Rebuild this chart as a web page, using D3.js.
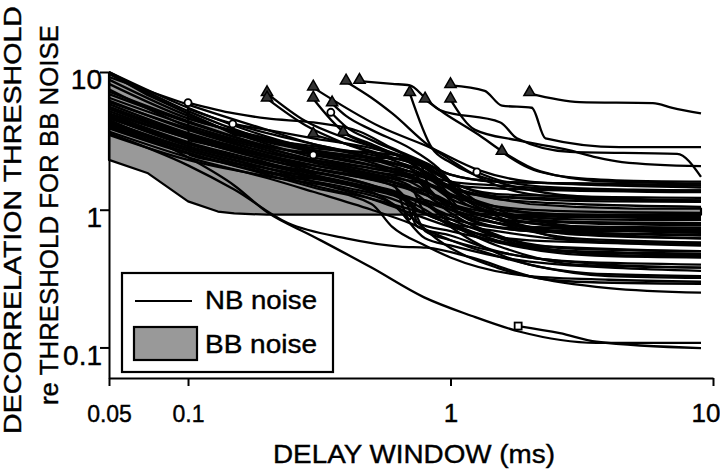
<!DOCTYPE html>
<html>
<head>
<meta charset="utf-8">
<script src="https://cdnjs.cloudflare.com/ajax/libs/d3/7.8.5/d3.min.js"></script>
<style>
  body { margin: 0; background: #fff; }
  svg { display: block; font-family: Helvetica, Arial, "Liberation Sans", sans-serif; }
  svg text { stroke: #000; stroke-width: 0.4px; }
</style>
</head>
<body>
<svg width="720" height="470"></svg>
<script>
// BB noise range (gray band)
var bbDelay = [0.05, 0.07, 0.1, 0.13, 0.15, 0.2, 0.3, 0.45, 0.7, 1, 1.5, 2, 3, 5, 9];
var bbUpper = [9.8, 6.8, 5.0, 4.0, 3.5, 3.2, 2.9, 2.5, 1.9, 1.45, 1.2, 1.1, 1.05, 1.02, 1.02];
var bbLower = [2.3, 1.85, 1.15, 0.97, 0.94, 0.92, 0.92, 0.92, 0.92, 0.92, 0.92, 0.92, 0.92, 0.92, 0.92];

// NB noise curves starting at the shortest window
var nbFromStart = [
  [[0.05,10],[0.1,5.2],[0.2,3.2],[0.3,2.6],[0.5,2.1],[0.7,1.7],[1,1.3],[1.5,1.0],[2,0.85],[3,0.75],[5,0.7],[9,0.68]],
  [[0.05,9.7],[0.1,5.0],[0.15,3.6],[0.2,3.0],[0.3,2.4],[0.5,2.0],[0.8,1.6],[1,1.2],[1.5,0.95],[3,0.8],[9,0.77]],
  [[0.05,9.2],[0.1,5.8],[0.2,3.8],[0.3,3.0],[0.5,2.5],[0.7,2.2],[0.9,1.6],[1.2,1.3],[2,1.2],[4,1.15],[9,1.14]],
  [[0.05,8.2],[0.1,4.6],[0.2,3.3],[0.3,2.7],[0.5,2.4],[0.75,2.3],[0.85,1.3],[1,1.1],[2,0.9],[4,0.88],[9,0.86]],
  [[0.05,6.9],[0.1,4.3],[0.2,2.9],[0.3,2.5],[0.5,2.1],[0.7,1.9],[1,1.6],[1.5,1.5],[3,1.4],[9,1.38]],
  [[0.05,6.05],[0.1,3.9],[0.2,2.7],[0.3,2.2],[0.5,1.8],[0.7,1.5],[0.8,0.95],[1,0.8],[1.5,0.6],[3,0.5],[9,0.48]],
  [[0.05,5.85],[0.1,3.6],[0.2,2.5],[0.3,2.0],[0.5,1.65],[0.7,1.4],[1,1.1],[1.5,0.85],[3,0.66],[9,0.62]],
  [[0.05,5.2],[0.1,3.3],[0.2,2.3],[0.3,1.9],[0.5,1.5],[0.65,1.3],[0.75,0.75],[1,0.65],[1.5,0.5],[3,0.42],[9,0.4]],
  [[0.05,4.95],[0.1,3.1],[0.2,2.2],[0.3,1.8],[0.5,1.45],[1,1.0],[1.5,0.8],[3,0.62],[9,0.58]],
  [[0.05,4.7],[0.1,2.9],[0.2,2.1],[0.3,1.75],[0.5,1.4],[0.7,1.1],[0.8,0.7],[1,0.6],[2,0.45],[4,0.4],[9,0.38]],
  [[0.05,4.4],[0.1,2.8],[0.2,2.0],[0.3,1.6],[0.5,1.2],[0.7,0.95],[1,0.75],[2,0.6],[9,0.56]],
  [[0.05,4.2],[0.1,2.7],[0.2,1.9],[0.3,1.5],[0.5,1.2],[1,0.85],[2,0.7],[9,0.66]],
  [[0.05,4.0],[0.1,2.6],[0.2,1.8],[0.3,1.45],[0.5,1.1],[0.6,0.75],[0.8,0.55],[1,0.45],[2,0.33],[4,0.31],[9,0.3]],
  [[0.05,3.7],[0.1,2.4],[0.2,1.7],[0.3,1.35],[0.5,1.0],[0.7,0.8],[1,0.6],[2,0.4],[4,0.33],[9,0.32]],
  [[0.05,3.6],[0.1,2.1],[0.15,1.4],[0.24,0.8],[0.4,0.62],[0.64,0.54],[0.81,0.53],[1.2,0.45],[2,0.33],[4,0.27],[9,0.25]],
  [[0.05,4.5],[0.1,2.4],[0.15,1.5],[0.2,0.96],[0.3,0.64],[0.5,0.38],[0.79,0.232],[1.2,0.17],[1.84,0.13],[3.6,0.108],[9,0.108]],
  [[0.05,10],[0.1,5.5],[0.2,3.4],[0.3,2.8],[0.5,2.6],[0.7,2.4],[1,1.8],[1.5,1.6],[3,1.55],[9,1.5]],
  [[0.05,7.5],[0.1,4.0],[0.2,2.6],[0.4,2.0],[0.6,1.7],[0.9,1.45],[1.1,0.9],[1.5,0.75],[3,0.7],[9,0.7]],
  [[0.05,6.5],[0.1,4.1],[0.2,2.8],[0.3,2.3],[0.5,1.9],[0.8,1.6],[1,1.25],[2,1.0],[4,0.96],[9,0.95]],
  [[0.05,5.5],[0.1,3.5],[0.2,2.45],[0.3,2.0],[0.6,1.6],[0.9,1.25],[1.2,0.95],[2,0.9],[9,0.94]],
  [[0.05,5.0],[0.1,3.3],[0.2,2.3],[0.4,1.8],[0.6,1.5],[0.75,1.0],[0.9,0.85],[1.5,0.7],[3,0.6],[9,0.57]],
  [[0.05,4.6],[0.1,3.0],[0.2,2.15],[0.4,1.7],[0.6,1.35],[0.8,1.1],[1,0.8],[2,0.52],[4,0.46],[9,0.45]],
  [[0.05,4.3],[0.1,2.8],[0.2,2.0],[0.4,1.55],[0.7,1.15],[0.75,0.8],[1,0.7],[2,0.55],[9,0.5]],
  [[0.05,3.9],[0.1,2.55],[0.2,1.85],[0.4,1.45],[0.6,1.2],[0.9,0.85],[1.5,0.55],[3,0.4],[9,0.38]],
  [[0.05,8.8],[0.1,4.8],[0.2,3.1],[0.4,2.5],[0.6,2.2],[0.8,1.9],[1,1.5],[2,1.4],[9,1.34]],
  [[0.05,7.2],[0.1,4.4],[0.2,2.9],[0.4,2.4],[0.7,2.0],[0.85,1.2],[1.1,1.0],[2,0.82],[9,0.8]],
  [[0.05,5.4],[0.1,3.4],[0.2,2.4],[0.4,1.9],[0.7,1.4],[0.95,0.9],[1.3,0.7],[2.5,0.5],[9,0.47]],
  [[0.05,4.8],[0.1,3.0],[0.2,2.1],[0.5,1.5],[0.8,1.0],[1.2,0.6],[2,0.4],[4,0.34],[9,0.33]],
  [[0.05,4.1],[0.1,2.7],[0.2,1.9],[0.5,1.35],[0.7,0.9],[0.9,0.6],[1.5,0.38],[3,0.3],[9,0.29]],
  [[0.05,6.2],[0.1,3.8],[0.2,2.6],[0.5,2.0],[0.8,1.7],[1.2,1.2],[2,0.95],[4,0.9],[9,0.88]],
  [[0.05,5.6],[0.1,3.5],[0.3,2.1],[0.6,1.6],[0.7,0.85],[0.75,1.2],[1,1.0],[2,0.75],[9,0.72]],
  [[0.05,3.5],[0.1,2.3],[0.2,1.75],[0.4,1.4],[0.6,1.1],[0.8,0.62],[1,0.55],[2,0.42],[9,0.36]]
];

// NB noise curves starting later, with the start marker kind
var nbLateMark = ["circle","none","none","none","none","none","circle",
  "tri","tri","tri","tri","tri","tri","tri","tri","tri","tri","tri","circle","tri","tri","circle","tri","tri","square","circle"];
var nbLateStart = [
  [[0.1,6.0],[0.15,5.0],[0.2,4.6],[0.3,4.3],[0.45,3.7],[0.6,2.8],[0.8,2.2],[1,1.8],[1.5,1.6],[3,1.55],[9,1.5]],
  [[0.1,5.4],[0.15,4.2],[0.2,3.8],[0.3,3.3],[0.5,2.8],[0.7,2.3],[1,1.6],[1.5,1.25],[3,1.2],[9,1.17]],
  [[0.1,4.6],[0.2,3.2],[0.3,2.7],[0.5,2.2],[0.8,1.5],[1,1.0],[1.5,0.8],[3,0.72],[9,0.7]],
  [[0.1,3.9],[0.2,2.8],[0.3,2.3],[0.5,1.9],[0.7,1.6],[0.9,1.2],[1.2,0.85],[2,0.7],[9,0.65]],
  [[0.1,3.2],[0.2,2.4],[0.3,2.0],[0.5,1.7],[0.8,1.3],[1,0.95],[1.5,0.65],[3,0.52],[9,0.5]],
  [[0.1,5.6],[0.101,2.5],[0.2,2.0],[0.3,1.7],[0.5,1.4],[0.7,1.2],[1,0.9],[2,0.55],[4,0.47],[9,0.46]],
  [[0.148,4.2],[0.2,3.6],[0.3,3.0],[0.5,2.4],[0.7,2.0],[1,1.45],[1.5,1.2],[3,1.1],[9,1.05]],
  [[0.2,7.0],[0.28,4.4],[0.4,3.3],[0.6,2.6],[0.8,2.1],[1,1.6],[1.5,1.3],[3,1.25],[9,1.22]],
  [[0.2,6.4],[0.28,4.1],[0.4,3.0],[0.6,2.3],[0.9,1.6],[1.1,1.0],[2,0.8],[4,0.75],[9,0.74]],
  [[0.3,7.7],[0.54,4.0],[0.83,2.85],[1.28,1.94],[2,1.6],[4,1.5],[9,1.45]],
  [[0.3,6.4],[0.39,3.7],[0.5,3.0],[0.7,2.2],[0.9,1.5],[1.2,1.05],[2,0.85],[4,0.8],[9,0.78]],
  [[0.354,5.9],[0.4,4.8],[0.5,3.8],[0.7,2.8],[0.9,2.0],[1.1,1.3],[1.5,1.0],[3,0.92],[9,0.9]],
  [[0.4,8.5],[0.5,6.5],[0.6,5.0],[0.83,2.9],[1.0,2.3],[1.3,1.7],[2,1.3],[4,1.2],[9,1.15]],
  [[0.45,8.6],[0.6,8.2],[0.7,8.0],[0.8,6.5],[0.91,5.3],[1.55,4.3],[1.79,3.3],[2.85,2.63],[7.3,2.54],[9,1.73]],
  [[0.7,7.0],[0.85,2.8],[1.0,2.2],[1.5,1.6],[2.5,1.3],[5,1.2],[9,1.17]],
  [[0.8,6.3],[0.95,5.0],[1.28,3.5],[1.6,2.6],[2.2,1.9],[4,1.6],[9,1.55]],
  [[1.0,8.0],[1.35,7.3],[1.57,5.7],[2.04,5.5],[2.3,3.3],[4.4,2.85],[9,2.85]],
  [[1.0,6.3],[1.24,3.8],[1.79,3.2],[2.85,2.7],[3.6,2.4],[4.5,2.22],[9,2.07]],
  [[0.35,5.1],[0.4,4.0],[0.5,3.2],[0.7,2.4],[1.0,1.6],[1.3,1.1],[2,0.8],[4,0.72],[9,0.7]],
  [[0.39,3.6],[0.5,2.9],[0.7,2.3],[0.9,1.9],[1.1,1.25],[1.5,0.95],[3,0.85],[9,0.84]],
  [[0.3,3.5],[0.4,3.0],[0.6,2.4],[0.8,2.0],[1.0,1.4],[1.4,0.95],[2.5,0.7],[9,0.62]],
  [[0.3,2.5],[0.5,2.1],[0.7,1.8],[0.85,1.3],[1.0,1.1],[1.5,0.85],[3,0.6],[9,0.55]],
  [[1.57,2.62],[2,2.0],[3,1.7],[5,1.62],[9,1.6]],
  [[2.0,7.0],[3.1,6.05],[5.9,5.95],[7,5.5],[9,5.0]],
  [[1.81,0.143],[2.61,0.127],[3.6,0.11],[9,0.099]],
  [[1.26,1.88],[1.6,1.6],[2.5,1.45],[5,1.4],[9,1.38]]
];

var xMajor = [0.05, 0.1, 1, 10];
var xMinor = [0.06,0.07,0.08,0.09,0.2,0.3,0.4,0.5,0.6,0.7,0.8,0.9,2,3,4,5,6,7,8,9];
var yMajor = [0.1, 1, 10];
var yMinor = [0.07,0.08,0.09,0.2,0.3,0.4,0.5,0.6,0.7,0.8,0.9,2,3,4,5,6,7,8,9];

var svg = d3.select("svg");

var x = d3.scaleLog().domain([0.05, 10]).range([109, 713]);
var y = d3.scaleLog().domain([0.06, 10]).range([378, 72]);

// gray band
var bbData = bbDelay.map(function(d, i) { return {d: d, lo: bbLower[i], hi: bbUpper[i]}; });
var area = d3.area()
  .x(function(d) { return x(d.d); })
  .y0(function(d) { return y(d.lo); })
  .y1(function(d) { return y(d.hi); });

svg.append("path")
  .datum(bbData)
  .attr("d", area)
  .attr("fill", "#999")
  .attr("stroke", "#000")
  .attr("stroke-width", 2.2)
  .attr("stroke-linejoin", "round");

var line = d3.line()
  .x(function(d) { return x(d[0]); })
  .y(function(d) { return y(d[1]); })
  .curve(d3.curveMonotoneX);

var lines = svg.append("g")
  .attr("fill", "none")
  .attr("stroke", "#000")
  .attr("stroke-width", 2.3)
  .attr("stroke-linejoin", "round");

lines.selectAll("path.early")
  .data(nbFromStart)
  .enter().append("path")
  .attr("class", "early")
  .attr("d", line);

lines.selectAll("path.late")
  .data(nbLateStart)
  .enter().append("path")
  .attr("class", "late")
  .attr("d", line);

// start markers
var marks = svg.append("g");
nbLateStart.forEach(function(pts, i) {
  var kind = nbLateMark[i], p = pts[0];
  var px = x(p[0]), py = y(p[1]);
  if (kind === "tri") {
    marks.append("path")
      .attr("d", d3.symbol().type(d3.symbolTriangle).size(55)())
      .attr("transform", "translate(" + px + "," + (py - 1) + ")")
      .attr("fill", "#333").attr("stroke", "#000").attr("stroke-width", 1.5);
  } else if (kind === "circle") {
    marks.append("circle")
      .attr("cx", px).attr("cy", py).attr("r", 3.5)
      .attr("fill", "#fff").attr("stroke", "#000").attr("stroke-width", 1.8);
  } else if (kind === "square") {
    marks.append("rect")
      .attr("x", px - 3.5).attr("y", py - 3.5).attr("width", 7).attr("height", 7)
      .attr("fill", "#fff").attr("stroke", "#000").attr("stroke-width", 1.8);
  }
});

// axes
var fmt = function(d) { return String(d); };

var gx = svg.append("g").attr("transform", "translate(0,378)");
gx.call(d3.axisBottom(x).tickValues(xMinor).tickSize(4).tickSizeOuter(0).tickFormat(""));
gx.call(d3.axisBottom(x).tickValues(xMajor).tickSize(8).tickSizeOuter(0).tickFormat(fmt));
gx.selectAll("path, line").attr("stroke", "#000").attr("stroke-width", 2);
gx.selectAll("text")
  .attr("y", 44).attr("dy", 0)
  .attr("fill", "#000")
  .attr("text-anchor", function(d) { return d === 10 ? "end" : "middle"; })
  .attr("x", function(d) { return d === 10 ? 720 - x(10) : 0; })
  .style("font-size", function(d) { return d < 1 ? "23px" : "26px"; });

var gy = svg.append("g").attr("transform", "translate(109,0)");
gy.call(d3.axisLeft(y).tickValues(yMinor).tickSize(5).tickSizeOuter(0).tickFormat(""));
gy.call(d3.axisLeft(y).tickValues(yMajor).tickSize(9).tickSizeOuter(0).tickFormat(fmt));
gy.selectAll("path, line").attr("stroke", "#000").attr("stroke-width", 2);
gy.selectAll("text")
  .attr("x", -7).attr("dy", "0.6em")
  .attr("fill", "#000")
  .style("font-size", "28px");

// axis titles
svg.append("text")
  .attr("x", 414).attr("y", 463)
  .attr("text-anchor", "middle")
  .attr("textLength", 282).attr("lengthAdjust", "spacingAndGlyphs")
  .style("font-size", "26px")
  .text("DELAY WINDOW (ms)");

svg.append("text")
  .attr("transform", "translate(21,220) rotate(-90)")
  .attr("text-anchor", "middle")
  .attr("textLength", 428).attr("lengthAdjust", "spacingAndGlyphs")
  .style("font-size", "24px")
  .text("DECORRELATION THRESHOLD");

svg.append("text")
  .attr("transform", "translate(58,215) rotate(-90)")
  .attr("text-anchor", "middle")
  .attr("textLength", 380).attr("lengthAdjust", "spacingAndGlyphs")
  .style("font-size", "25px")
  .text("re THRESHOLD FOR BB NOISE");

// legend
var lg = svg.append("g");
lg.append("rect")
  .attr("x", 122).attr("y", 273).attr("width", 211).attr("height", 99)
  .attr("fill", "#fff").attr("stroke", "#000").attr("stroke-width", 2.2);
lg.append("line")
  .attr("x1", 135).attr("x2", 192).attr("y1", 301).attr("y2", 301)
  .attr("stroke", "#000").attr("stroke-width", 2.2);
lg.append("text")
  .attr("x", 205).attr("y", 309)
  .attr("textLength", 112).attr("lengthAdjust", "spacingAndGlyphs")
  .style("font-size", "25px")
  .text("NB noise");
lg.append("rect")
  .attr("x", 134).attr("y", 327).attr("width", 63).attr("height", 33)
  .attr("fill", "#999").attr("stroke", "#000").attr("stroke-width", 2.2);
lg.append("text")
  .attr("x", 205).attr("y", 353)
  .attr("textLength", 112).attr("lengthAdjust", "spacingAndGlyphs")
  .style("font-size", "25px")
  .text("BB noise");
</script>
</body>
</html>
